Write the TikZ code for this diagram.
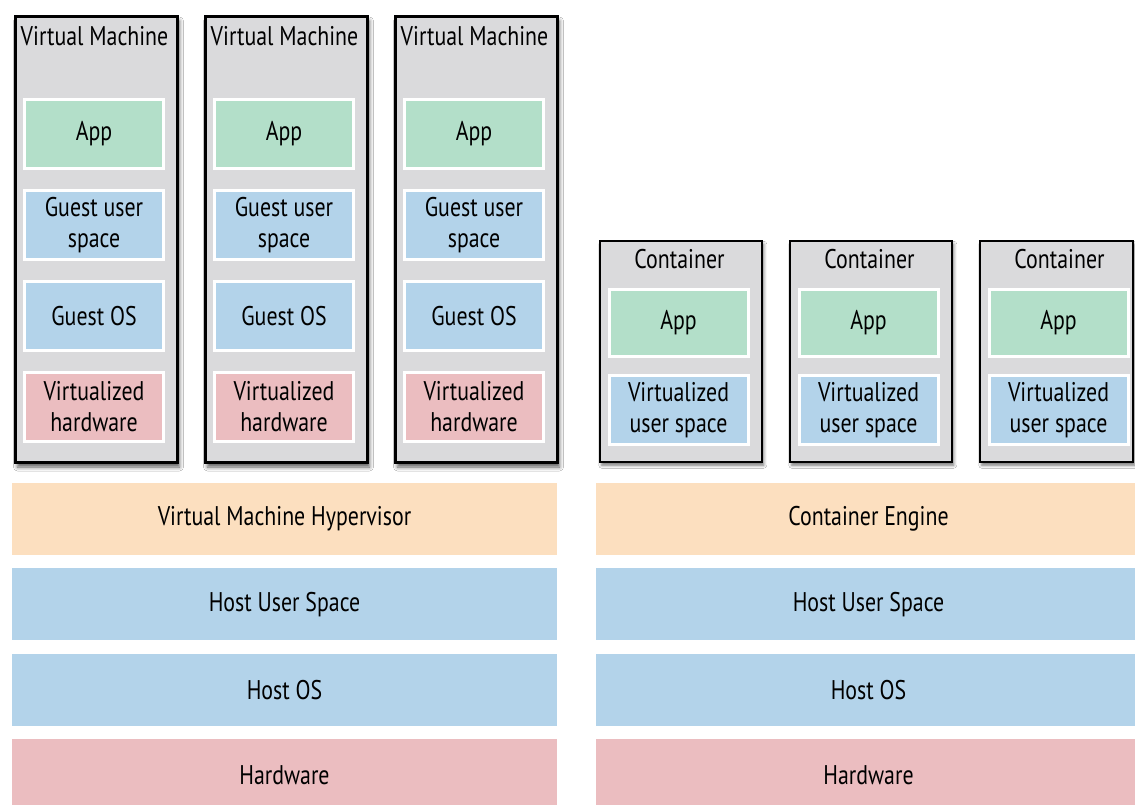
\documentclass[tikz,border=0pt]{standalone}
\usepackage{fontspec}
\setmainfont[FakeStretch=0.81]{PT Sans}
\usepackage{tikz}
\usetikzlibrary{positioning, shadows.blur}
\definecolor{boxgray}{HTML}{DADADC}
\definecolor{appgreen}{HTML}{B3DFC9}
\definecolor{userblue}{HTML}{B3D3EA}
\definecolor{hwpink}{HTML}{EBBDC0}
\definecolor{engorange}{HTML}{FCDFBF}
\tikzset{
  vmbox/.style={draw=black, line width=3pt, fill=boxgray, minimum width=162pt, minimum height=446pt, anchor=north west,
    blur shadow={shadow xshift=2.5pt, shadow yshift=-5pt, shadow blur radius=4pt, shadow opacity=65}},
  ctbox/.style={draw=black, line width=2.5pt, fill=boxgray, minimum width=162pt, minimum height=221pt, anchor=north west,
    blur shadow={shadow xshift=2pt, shadow yshift=-3.5pt, shadow blur radius=3pt, shadow opacity=55}},
  title/.style={anchor=center, inner sep=0pt},
  layer/.style={draw=white, line width=3pt, minimum width=139pt, minimum height=69pt, align=center, inner sep=0pt},
  bar/.style={minimum width=545pt, minimum height=72pt, inner sep=0pt}
}
\begin{document}
\begin{tikzpicture}[x=1pt, y=-1pt, font=\fontsize{27}{31}\selectfont]
\useasboundingbox[fill=white] (0,0) rectangle (1135,804);

%----------------------------------------------------------------
\node(vmone) [vmbox] at (13.5,14.5) {};
\node(vmtwo) [vmbox] at (203.5,14.5) {};
\node(vmthree) [vmbox] at (393.5,14.5) {};
\node(vmonetitle) [title] at (94.5,36) {Virtual Machine};
\node(vmtwotitle) [title] at (284.5,36) {Virtual Machine};
\node(vmthreetitle) [title] at (474.5,36) {Virtual Machine};

\node(appone) [layer, fill=appgreen] at (94,134) {App};
\node(guserone) [layer, fill=userblue, below=19pt of appone] {Guest user\\space};
\node(gosone) [layer, fill=userblue, below=19pt of guserone] {Guest OS};
\node(vhwone) [layer, fill=hwpink, below=19pt of gosone] {Virtualized\\hardware};

\node(apptwo) [layer, fill=appgreen] at (284,134) {App};
\node(gusertwo) [layer, fill=userblue, below=19pt of apptwo] {Guest user\\space};
\node(gostwo) [layer, fill=userblue, below=19pt of gusertwo] {Guest OS};
\node(vhwtwo) [layer, fill=hwpink, below=19pt of gostwo] {Virtualized\\hardware};

\node(appthree) [layer, fill=appgreen] at (474,134) {App};
\node(guserthree) [layer, fill=userblue, below=19pt of appthree] {Guest user\\space};
\node(gosthree) [layer, fill=userblue, below=19pt of guserthree] {Guest OS};
\node(vhwthree) [layer, fill=hwpink, below=19pt of gosthree] {Virtualized\\hardware};

%----------------------------------------------------------------
\node(ctone) [ctbox] at (598.5,239.5) {};
\node(cttwo) [ctbox] at (788.5,239.5) {};
\node(ctthree) [ctbox, minimum width=153pt] at (978.5,239.5) {};
\node(ctonetitle) [title] at (679.5,259) {Container};
\node(cttwotitle) [title] at (869.5,259) {Container};
\node(ctthreetitle) [title] at (1059.5,259) {Container};

\node(ctappone) [layer, fill=appgreen, minimum height=67pt] at (678.5,323) {App};
\node(vusone) [layer, fill=userblue, minimum height=69pt, below=16pt of ctappone] {Virtualized\\user space};
\node(ctapptwo) [layer, fill=appgreen, minimum height=67pt] at (868.5,323) {App};
\node(vustwo) [layer, fill=userblue, minimum height=69pt, below=16pt of ctapptwo] {Virtualized\\user space};
\node(ctappthree) [layer, fill=appgreen, minimum height=67pt] at (1058.5,323) {App};
\node(vusthree) [layer, fill=userblue, minimum height=69pt, below=16pt of ctappthree] {Virtualized\\user space};

%----------------------------------------------------------------
\node(hypervisor) [bar, fill=engorange] at (284.5,519) {Virtual Machine Hypervisor};
\node(vmhostuser) [bar, fill=userblue, below=13pt of hypervisor] {Host User Space};
\node(vmhostos) [bar, fill=userblue, below=13pt of vmhostuser] {Host OS};
\node(vmhw) [bar, fill=hwpink, below=13pt of vmhostos] {Hardware};

\node(engine) [bar, fill=engorange] at (868.5,519) {Container Engine};
\node(cthostuser) [bar, fill=userblue, below=13pt of engine] {Host User Space};
\node(cthostos) [bar, fill=userblue, below=13pt of cthostuser] {Host OS};
\node(cthw) [bar, fill=hwpink, below=13pt of cthostos] {Hardware};
\end{tikzpicture}
\end{document}
